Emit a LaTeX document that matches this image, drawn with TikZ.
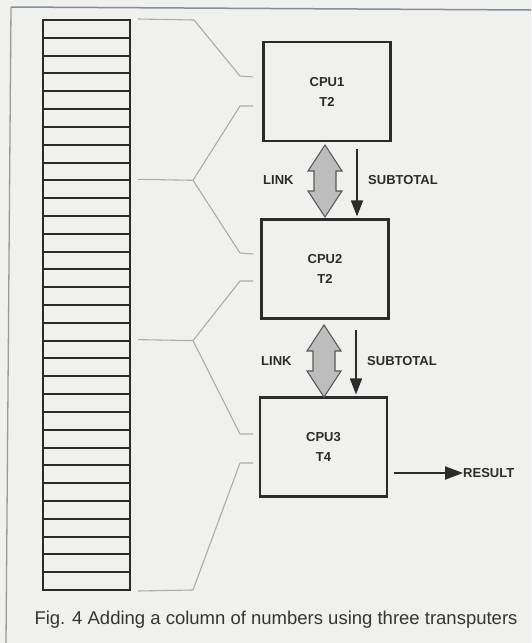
\documentclass[tikz,border=0pt]{standalone}
\usepackage{fontspec}
\setmainfont{Liberation Sans}
\usetikzlibrary{arrows.meta}
\definecolor{paper}{HTML}{F0F0EE}
\definecolor{ink}{HTML}{2B2B2B}
\definecolor{brk}{HTML}{ABABAB}
\definecolor{linkfill}{HTML}{BDBDBD}
\definecolor{linkedge}{HTML}{5A5A5A}
\definecolor{framegrey}{HTML}{9A9A9A}
\definecolor{frametop}{HTML}{7F90A0}
\definecolor{captext}{HTML}{353535}
\begin{document}
\begin{tikzpicture}[x=1pt,y=-1pt,
  cpu/.style={draw=ink, line width=2.1pt, minimum width=127pt, minimum height=99pt,
    inner sep=0pt, align=center, font=\fontsize{13}{20}\selectfont\bfseries, text=ink},
  cell/.style={draw=ink, line width=2pt, minimum width=87pt, minimum height=17.8125pt, inner sep=0pt},
  lbl/.style={font=\fontsize{13}{15}\selectfont\bfseries, text=ink, inner sep=0pt, anchor=west},
  bracket/.style={draw=brk, line width=1.1pt, line join=round},
  subarrow/.style={draw=ink, line width=1.5pt, -{Triangle[width=12pt,length=16pt]}},
  resarrow/.style={draw=ink, line width=2pt, -{Triangle[width=13pt,length=18pt]}},
  linkstyle/.style={draw=linkedge, fill=linkfill, line width=1.1pt, line join=miter},
  linkarr/.pic={\draw[linkstyle] (0,0) -- (17,26) -- (11,26) -- (11,46) -- (17,46) -- (0,72)
     -- (-17,46) -- (-11,46) -- (-11,26) -- (-17,26) -- cycle;}
]
\fill[paper] (0,0) rectangle (531,643);
\useasboundingbox (0,0) rectangle (531,643);
% frame rules
\draw[framegrey, line width=1.3pt] (11,7) -- (6,643);
\draw[frametop, line width=1.5pt] (11,7) -- (531,10);

% column of numbers
\foreach \i in {0,...,31}
  \node[cell] (c\i) at (86.5, {20+17.8125*(\i+0.5)}) {};

% CPUs
\node[cpu] (cpu1) at (327,91.5) {CPU1\\T2};
\node[cpu] (cpu2) at (325,269) {CPU2\\T2};
\node[cpu] (cpu3) at (323.5,447) {CPU3\\T4};

% bracket coordinates
\coordinate (ja) at (194,20);
\coordinate (da) at (240,76);
\coordinate (ta) at (253,77);
\coordinate (j1) at (193,180.3);
\coordinate (d1u) at (240,106);
\coordinate (t1u) at (253,106);
\coordinate (d1d) at (240,253);
\coordinate (t1d) at (253,254);
\coordinate (j2) at (193,340.6);
\coordinate (d2u) at (240,281);
\coordinate (t2u) at (253,281);
\coordinate (d2d) at (240,434);
\coordinate (t2d) at (253,434);
\coordinate (jb) at (193,590);
\coordinate (db) at (240,463);
\coordinate (tb) at (253,463);

\draw[bracket] ([xshift=7pt]c0.north east) -- (ja) -- (da) -- (ta);
\draw[bracket] ([xshift=7pt]c9.north east) -- (j1) -- (d1u) -- (t1u);
\draw[bracket] (j1) -- (d1d) -- (t1d);
\draw[bracket] ([xshift=7pt]c18.north east) -- (j2) -- (d2u) -- (t2u);
\draw[bracket] (j2) -- (d2d) -- (t2d);
\draw[bracket] ([xshift=7pt]c31.south east) -- (jb) -- (db) -- (tb);

% links and subtotals
\pic at (325,145) {linkarr};
\pic at (324,325) {linkarr};
\draw[subarrow, shorten >=2pt] ([xshift=30pt,yshift=-7pt]cpu1.south) -- ([xshift=30pt]cpu1.south |- cpu2.north);
\draw[subarrow, shorten >=2pt] ([xshift=31pt,yshift=-10pt]cpu2.south) -- ([xshift=31pt]cpu2.south |- cpu3.north);

\node[lbl] (link1) at (263,180) {LINK};
\node[lbl] (sub1) at (368,180) {SUBTOTAL};
\node[lbl] (link2) at (261,361) {LINK};
\node[lbl] (sub2) at (367,361) {SUBTOTAL};

% result
\node[lbl] (result) at (463,473) {RESULT};
\draw[resarrow, shorten <=6pt] (cpu3.east |- result.west) -- (result.west);

% caption
\node[font=\fontsize{18.5}{22}\selectfont, text=captext, inner sep=0pt] (caption) at (276,620)
  {Fig. 4 Adding a column of numbers using three transputers};
\end{tikzpicture}
\end{document}
